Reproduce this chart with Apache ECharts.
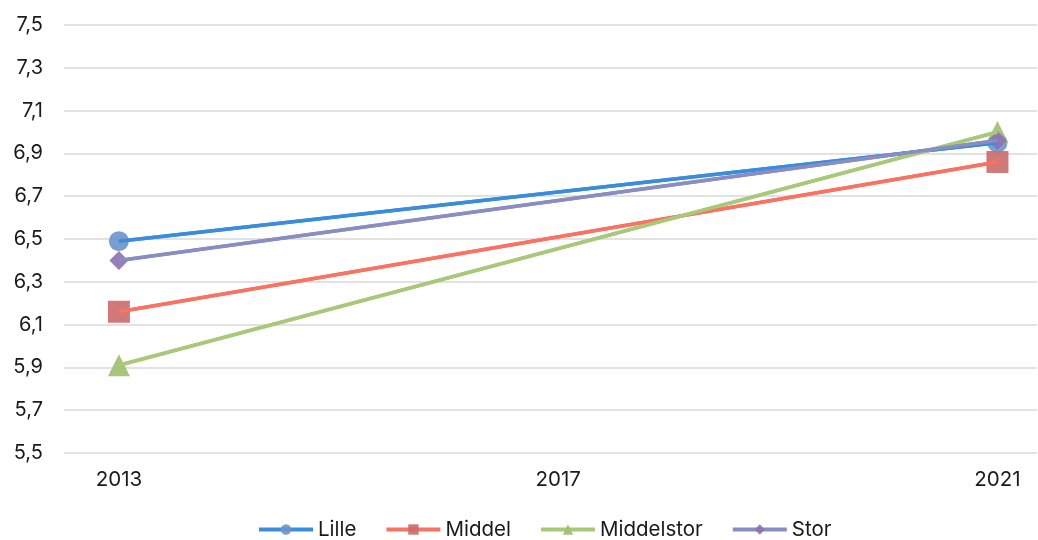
<!DOCTYPE html>
<html><head><meta charset="utf-8">
<script src="https://cdn.jsdelivr.net/npm/echarts@6/dist/echarts.min.js"></script>
<style>html,body{margin:0;padding:0;background:#fff}#c{width:1038px;height:540px}</style>
</head><body><div id="c"></div>
<script>
const years = [2013, 2021];
const xTicks = [2013, 2017, 2021];
const seriesNames = ['Lille', 'Middel', 'Middelstor', 'Stor'];
const lille = [6.49, 6.95];
const middel = [6.16, 6.86];
const middelstor = [5.91, 7.00];
const stor = [6.40, 6.96];

const values = [lille, middel, middelstor, stor];
const lineColors = ['#3a8ddc', '#fa7262', '#a9c97a', '#8a8dc2'];
const markerColors = ['#6a93ca', '#cc6a6a', '#9dbf6e', '#8d71b2'];
const symbols = ['circle', 'rect', 'triangle', 'diamond'];
const sizes = [20, 22, 22, 19];

const series = [];
values.forEach((v, i) => {
  const data = years.map((y, k) => [y, v[k]]);
  series.push({
    name: seriesNames[i], type: 'line', data: data,
    symbol: symbols[i], symbolSize: sizes[i],
    lineStyle: { color: lineColors[i], width: 3.5 },
    itemStyle: { color: markerColors[i], opacity: 0.9 },
    z: 2, animation: false
  });
  series.push({
    name: seriesNames[i], type: 'line', data: data,
    symbol: 'none', silent: true,
    lineStyle: { color: lineColors[i], width: 3.5 },
    itemStyle: { color: markerColors[i] },
    z: 3, animation: false
  });
});

const chart = echarts.init(document.getElementById('c'));
chart.setOption({
  animation: false,
  textStyle: { fontFamily: 'Inter' },
  grid: { left: 64, right: 1, top: 25, bottom: 87, containLabel: false },
  xAxis: {
    type: 'value', min: 2012.5, max: 2021.36,
    axisLine: { show: false }, axisTick: { show: false },
    splitLine: { show: false },
    axisLabel: { customValues: xTicks, color: '#1a1a1a', fontSize: 20.5, margin: 16, formatter: v => String(v) }
  },
  yAxis: {
    type: 'value', min: 5.5, max: 7.5, interval: 0.2,
    axisLine: { show: false }, axisTick: { show: false },
    splitLine: { lineStyle: { color: '#d9d9d9', width: 1.5 } },
    axisLabel: { color: '#1a1a1a', fontSize: 20, margin: 21, formatter: v => v.toFixed(1).replace('.', ',') }
  },
  legend: {
    data: seriesNames, top: 519, left: 257, padding: 0,
    itemWidth: 54, itemHeight: 13, itemGap: 28,
    lineStyle: { width: 4 },
    textStyle: { fontSize: 20.5, color: '#1a1a1a', fontFamily: 'Inter' }
  },
  series: series
});
</script>
</body></html>
